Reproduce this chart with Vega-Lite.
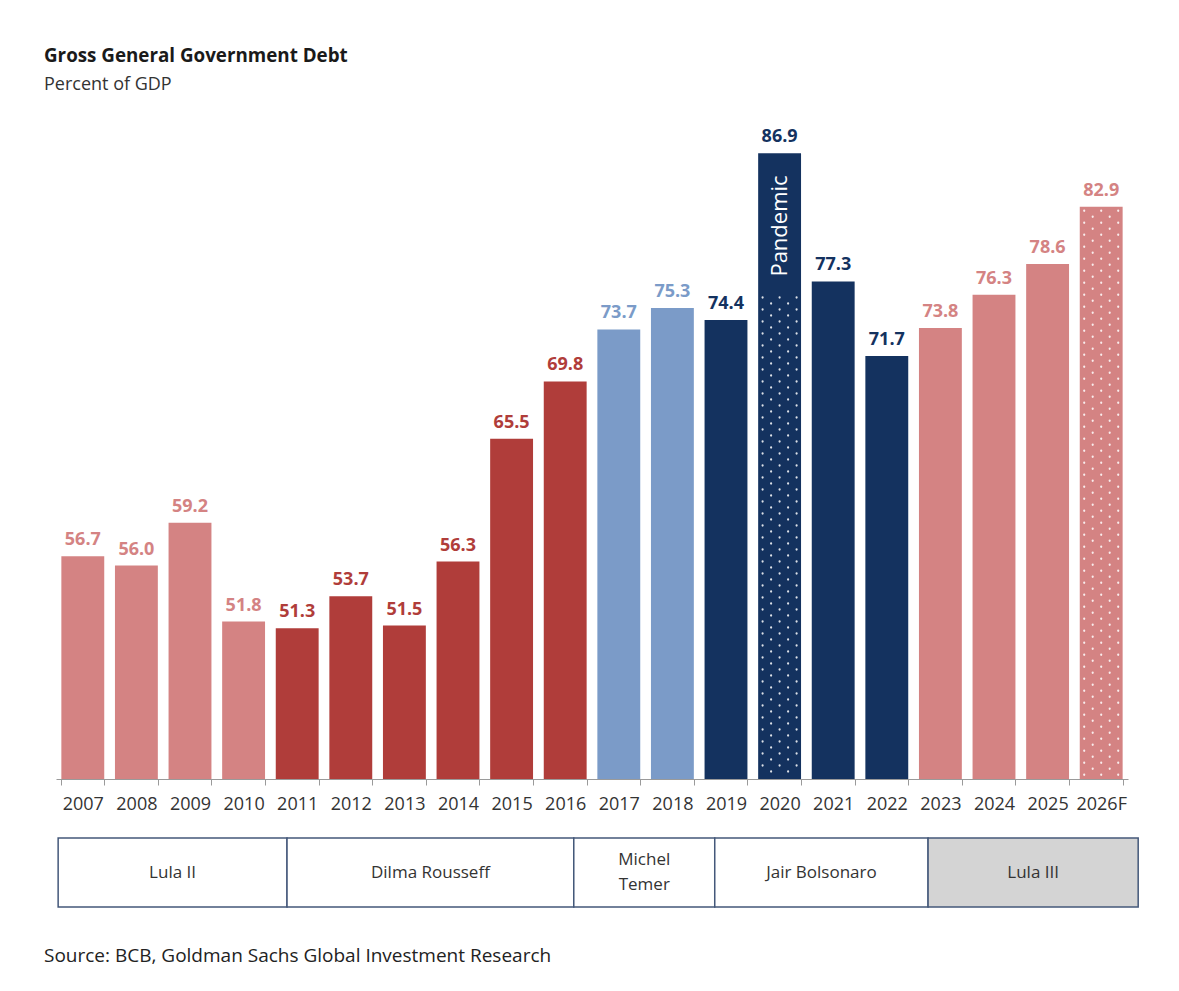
{
  "$schema": "https://vega.github.io/schema/vega-lite/v6.json",
  "background": "white",
  "padding": {"left": 44, "top": 47, "right": 20, "bottom": 20},
  "config": {"view": {"stroke": null}, "font": "Open Sans", "concat": {"spacing": 24}},
  "title": {
    "text": "Gross General Government Debt",
    "subtitle": "Percent of GDP",
    "anchor": "start",
    "font": "Open Sans",
    "fontSize": 18.8,
    "fontWeight": "bold",
    "color": "#1a1a1a",
    "subtitleFont": "Open Sans",
    "subtitleFontSize": 18,
    "subtitleColor": "#333333",
    "subtitlePadding": 10,
    "offset": 18
  },
  "datasets": {
    "debt": [
      {"year": "2007", "value": 56.7, "era": "Lula"},
      {"year": "2008", "value": 56.0, "era": "Lula"},
      {"year": "2009", "value": 59.2, "era": "Lula"},
      {"year": "2010", "value": 51.8, "era": "Lula"},
      {"year": "2011", "value": 51.3, "era": "Dilma"},
      {"year": "2012", "value": 53.7, "era": "Dilma"},
      {"year": "2013", "value": 51.5, "era": "Dilma"},
      {"year": "2014", "value": 56.3, "era": "Dilma"},
      {"year": "2015", "value": 65.5, "era": "Dilma"},
      {"year": "2016", "value": 69.8, "era": "Dilma"},
      {"year": "2017", "value": 73.7, "era": "Temer"},
      {"year": "2018", "value": 75.3, "era": "Temer"},
      {"year": "2019", "value": 74.4, "era": "Bolsonaro"},
      {"year": "2020", "value": 86.9, "era": "Bolsonaro", "dotTop": 76.1, "note": "Pandemic"},
      {"year": "2021", "value": 77.3, "era": "Bolsonaro"},
      {"year": "2022", "value": 71.7, "era": "Bolsonaro"},
      {"year": "2023", "value": 73.8, "era": "Lula"},
      {"year": "2024", "value": 76.3, "era": "Lula"},
      {"year": "2025", "value": 78.6, "era": "Lula"},
      {"year": "2026F", "value": 82.9, "era": "Lula", "dotTop": 82.6}
    ],
    "terms": [
      {"name": "Lula II", "start": 2006.54, "end": 2010.81},
      {"name": "Dilma Rousseff", "start": 2010.81, "end": 2016.16},
      {"name": "Michel\nTemer", "start": 2016.16, "end": 2018.79},
      {"name": "Jair Bolsonaro", "start": 2018.79, "end": 2022.77},
      {"name": "Lula III", "start": 2022.77, "end": 2026.69}
    ]
  },
  "vconcat": [
    {
      "width": 1072,
      "height": 667,
      "data": {"name": "debt"},
      "encoding": {
        "x": {
          "field": "year",
          "type": "nominal",
          "sort": null,
          "scale": {"paddingInner": 0.2, "paddingOuter": 0.1},
          "axis": {
            "title": null,
            "labelAngle": 0,
            "labelFont": "Open Sans",
            "labelFontSize": 18,
            "labelColor": "#333333",
            "labelPadding": 10,
            "tickSize": 6,
            "tickColor": "#9a9a9a",
            "domainColor": "#9a9a9a",
            "tickBand": "extent"
          }
        }
      },
      "layer": [
        {
          "mark": {"type": "bar"},
          "encoding": {
            "y": {"field": "value", "type": "quantitative", "scale": {"domain": [40, 90], "zero": false, "nice": false}, "axis": null},
            "y2": {"datum": 40},
            "color": {
              "field": "era",
              "type": "nominal",
              "scale": {"domain": ["Lula", "Dilma", "Temer", "Bolsonaro"], "range": ["#D48383", "#B03D3A", "#7B9BC8", "#14325F"]},
              "legend": null
            }
          }
        },
        {
          "mark": {"type": "text", "baseline": "bottom", "dy": -7, "fontSize": 18, "fontWeight": "bold", "font": "Open Sans"},
          "encoding": {
            "y": {"field": "value", "type": "quantitative"},
            "text": {"field": "value", "type": "quantitative", "format": ".1f"},
            "color": {"field": "era", "type": "nominal"}
          }
        },
        {
          "transform": [{"filter": "isValid(datum.dotTop)"}],
          "mark": {"type": "rule", "xOffset": -17, "stroke": "white", "strokeOpacity": 0.85, "strokeWidth": 2.2, "strokeCap": "round", "strokeDash": [0.1, 11.9], "strokeDashOffset": 0},
          "encoding": {"y": {"field": "dotTop", "type": "quantitative"}, "y2": {"datum": 40.3}}
        },
        {
          "transform": [{"filter": "isValid(datum.dotTop)"}],
          "mark": {"type": "rule", "xOffset": -8.5, "stroke": "white", "strokeOpacity": 0.85, "strokeWidth": 2.2, "strokeCap": "round", "strokeDash": [0.1, 11.9], "strokeDashOffset": 6},
          "encoding": {"y": {"field": "dotTop", "type": "quantitative"}, "y2": {"datum": 40.3}}
        },
        {
          "transform": [{"filter": "isValid(datum.dotTop)"}],
          "mark": {"type": "rule", "xOffset": 0, "stroke": "white", "strokeOpacity": 0.85, "strokeWidth": 2.2, "strokeCap": "round", "strokeDash": [0.1, 11.9], "strokeDashOffset": 0},
          "encoding": {"y": {"field": "dotTop", "type": "quantitative"}, "y2": {"datum": 40.3}}
        },
        {
          "transform": [{"filter": "isValid(datum.dotTop)"}],
          "mark": {"type": "rule", "xOffset": 8.5, "stroke": "white", "strokeOpacity": 0.85, "strokeWidth": 2.2, "strokeCap": "round", "strokeDash": [0.1, 11.9], "strokeDashOffset": 6},
          "encoding": {"y": {"field": "dotTop", "type": "quantitative"}, "y2": {"datum": 40.3}}
        },
        {
          "transform": [{"filter": "isValid(datum.dotTop)"}],
          "mark": {"type": "rule", "xOffset": 17, "stroke": "white", "strokeOpacity": 0.85, "strokeWidth": 2.2, "strokeCap": "round", "strokeDash": [0.1, 11.9], "strokeDashOffset": 0},
          "encoding": {"y": {"field": "dotTop", "type": "quantitative"}, "y2": {"datum": 40.3}}
        },
        {
          "transform": [{"filter": "isValid(datum.note)"}],
          "mark": {"type": "text", "angle": 270, "align": "right", "baseline": "middle", "dx": -22, "fontSize": 22, "color": "white", "font": "Open Sans"},
          "encoding": {
            "y": {"field": "value", "type": "quantitative"},
            "text": {"field": "note", "type": "nominal"}
          }
        }
      ]
    },
    {
      "width": 1072,
      "height": 69,
      "data": {"name": "terms"},
      "title": {
        "text": "Source: BCB, Goldman Sachs Global Investment Research",
        "orient": "bottom",
        "anchor": "start",
        "dx": -12,
        "offset": 39,
        "font": "Open Sans",
        "fontSize": 19,
        "fontWeight": "normal",
        "color": "#222222"
      },
      "layer": [
        {
          "mark": {"type": "rect", "stroke": "#44587A", "strokeWidth": 1.5},
          "encoding": {
            "x": {"field": "start", "type": "quantitative", "scale": {"domain": [2006.5, 2026.5], "nice": false, "zero": false}, "axis": null},
            "x2": {"field": "end"},
            "fill": {"condition": {"test": "datum.name === 'Lula III'", "value": "#D4D4D4"}, "value": "white"}
          }
        },
        {
          "transform": [
            {"filter": "indexof(datum.name, '\\n') < 0"},
            {"calculate": "(datum.start + datum.end) / 2", "as": "mid"}
          ],
          "mark": {"type": "text", "fontSize": 17, "color": "#333333", "baseline": "middle", "font": "Open Sans"},
          "encoding": {
            "x": {"field": "mid", "type": "quantitative"},
            "text": {"field": "name", "type": "nominal"}
          }
        },
        {
          "transform": [
            {"filter": "indexof(datum.name, '\\n') >= 0"},
            {"calculate": "(datum.start + datum.end) / 2", "as": "mid"}
          ],
          "mark": {"type": "text", "lineBreak": "\n", "fontSize": 17, "color": "#333333", "baseline": "middle", "lineHeight": 25, "dy": -12.5, "font": "Open Sans"},
          "encoding": {
            "x": {"field": "mid", "type": "quantitative"},
            "text": {"field": "name", "type": "nominal"}
          }
        }
      ]
    }
  ]
}
